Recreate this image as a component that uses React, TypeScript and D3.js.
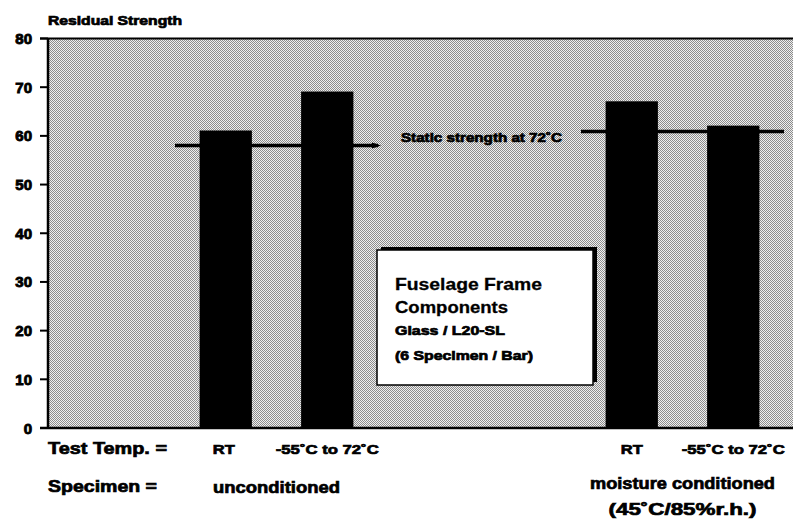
import React from "react";
import * as d3 from "d3";

const slots = ["uRT", "u55", "gapA", "gapB", "mRT", "m55"];
const barSlots = ["uRT", "u55", "mRT", "m55"];
const barValues = [61.1, 69.1, 67.1, 62.1];
const tempLabels = ["RT", "-55˚C to 72˚C", "RT", "-55˚C to 72˚C"];
const yTicks = [0, 10, 20, 30, 40, 50, 60, 70, 80];
const groupNames = ["unconditioned", "moisture conditioned"];
const groupSub = ["", "(45˚C/85%r.h.)"];
const groupSlots = [["uRT", "u55"], ["mRT", "m55"]];
const staticStrength = [58, 60.9];
const legendLines = ["Fuselage Frame", "Components", "Glass / L20-SL", "(6 Specimen / Bar)"];

const W = 793;
const H = 519;
const FONT = "'Liberation Sans', Arial, Helvetica, sans-serif";

export default function App() {
  const left = 48;
  const right = 793;
  const top = 38.5;
  const bottom = 428;
  const y = d3.scaleLinear().domain([0, 80]).range([bottom, top]);
  const x = d3
    .scaleBand<string>()
    .domain(slots)
    .range([175, 784])
    .paddingInner(0.485)
    .paddingOuter(0.2425);
  const step = x.step();
  const slotStart = (s: string) => (x(s) as number) - x.paddingOuter() * step;
  const bold = { fontFamily: FONT, fontWeight: 700 as const, fill: "#000", stroke: "#000", strokeWidth: 0.7 };

  return (
    <svg width={W} height={H} style={{ position: "absolute", left: 0, top: 0, background: "#fff" }}>
      <defs>
        <pattern id="stip" width="2" height="2" patternUnits="userSpaceOnUse">
          <rect width="2" height="2" fill="#efefef" />
          <rect x="0" y="0" width="1" height="1" fill="#8c8c8c" />
          <rect x="1" y="1" width="1" height="1" fill="#8c8c8c" />
        </pattern>
      </defs>
      {/* plot background */}
      <rect x={left} y={top} width={right - left} height={bottom - top} fill="url(#stip)" />

      {/* title */}
      <text x={48} y={25} fontSize={12} textLength={134} lengthAdjust="spacingAndGlyphs" {...bold}>
        Residual Strength
      </text>

      {/* y axis */}
      <line x1={left} x2={left} y1={top} y2={bottom} stroke="#000" strokeWidth={2.5} />
      <line x1={40} x2={right} y1={top} y2={top} stroke="#000" strokeWidth={2} />
      <line x1={40} x2={right} y1={bottom} y2={bottom} stroke="#000" strokeWidth={2.5} />
      {yTicks.map((t) => (
        <g key={t}>
          <line x1={40} x2={left} y1={y(t)} y2={y(t)} stroke="#000" strokeWidth={2} />
          <text x={32} y={y(t) + 5.5} fontSize={15} textAnchor="end" {...bold} strokeWidth={0.9}>
            {t}
          </text>
        </g>
      ))}

      {/* bars */}
      {barSlots.map((s, i) => (
        <rect
          key={s}
          x={x(s)}
          y={y(barValues[i])}
          width={x.bandwidth()}
          height={bottom - y(barValues[i])}
          fill="#000"
        />
      ))}

      {/* static strength lines */}
      {groupSlots.map((g, i) => {
        const x1 = slotStart(g[0]);
        const x2 = slotStart(g[1]) + step;
        const yy = y(staticStrength[i]);
        return (
          <g key={i}>
            <line x1={x1} x2={x2} y1={yy} y2={yy} stroke="#000" strokeWidth={3.5} />
            {i === 0 && <path d={`M${x2 - 6},${yy - 3} L${x2 + 3},${yy} L${x2 - 6},${yy + 3} Z`} fill="#000" />}
          </g>
        );
      })}
      <text
        x={slotStart(groupSlots[1][0]) - 19}
        y={y(staticStrength[1]) + 11}
        fontSize={12.5}
        textAnchor="end"
        textLength={161}
        lengthAdjust="spacingAndGlyphs"
        {...bold}
      >
        Static strength at 72˚C
      </text>

      {/* legend box */}
      <rect x={381} y={247} width={216} height={135} fill="#000" />
      <rect x={377} y={250} width={216} height={135} fill="#fff" stroke="#000" strokeWidth={1.5} />
      <text x={395} y={290} fontSize={17} textLength={147} lengthAdjust="spacingAndGlyphs" {...bold} strokeWidth={0.3}>
        {legendLines[0]}
      </text>
      <text x={395} y={313} fontSize={17} textLength={113} lengthAdjust="spacingAndGlyphs" {...bold} strokeWidth={0.3}>
        {legendLines[1]}
      </text>
      <text x={395} y={335} fontSize={12.5} textLength={110} lengthAdjust="spacingAndGlyphs" {...bold}>
        {legendLines[2]}
      </text>
      <text x={395} y={360} fontSize={12.5} textLength={138} lengthAdjust="spacingAndGlyphs" {...bold}>
        {legendLines[3]}
      </text>

      {/* x labels */}
      <text x={48} y={454} fontSize={16.5} textLength={119} lengthAdjust="spacingAndGlyphs" {...bold}>
        Test Temp. =
      </text>
      <text x={48} y={492} fontSize={16.5} textLength={109} lengthAdjust="spacingAndGlyphs" {...bold}>
        Specimen =
      </text>
      {barSlots.map((s, i) => (
        <text
          key={s}
          x={(x(s) as number) + x.bandwidth() / 2 - (i === 0 ? 2 : 0)}
          y={454}
          fontSize={13.5}
          textAnchor="middle"
          textLength={tempLabels[i] === "RT" ? 22 : 103}
          lengthAdjust="spacingAndGlyphs"
          {...bold}
        >
          {tempLabels[i]}
        </text>
      ))}
      {groupSlots.map((g, i) => {
        const cx = (slotStart(g[0]) + slotStart(g[1]) + step) / 2;
        return (
          <g key={i}>
            <text
              x={cx}
              y={i === 0 ? 493 : 489}
              fontSize={16.5}
              textAnchor="middle"
              textLength={i === 0 ? 127 : 185}
              lengthAdjust="spacingAndGlyphs"
              {...bold}
            >
              {groupNames[i]}
            </text>
            {groupSub[i] && (
              <text
                x={cx}
                y={515}
                fontSize={16.5}
                textAnchor="middle"
                textLength={148}
                lengthAdjust="spacingAndGlyphs"
                {...bold}
              >
                {groupSub[i]}
              </text>
            )}
          </g>
        );
      })}
    </svg>
  );
}
